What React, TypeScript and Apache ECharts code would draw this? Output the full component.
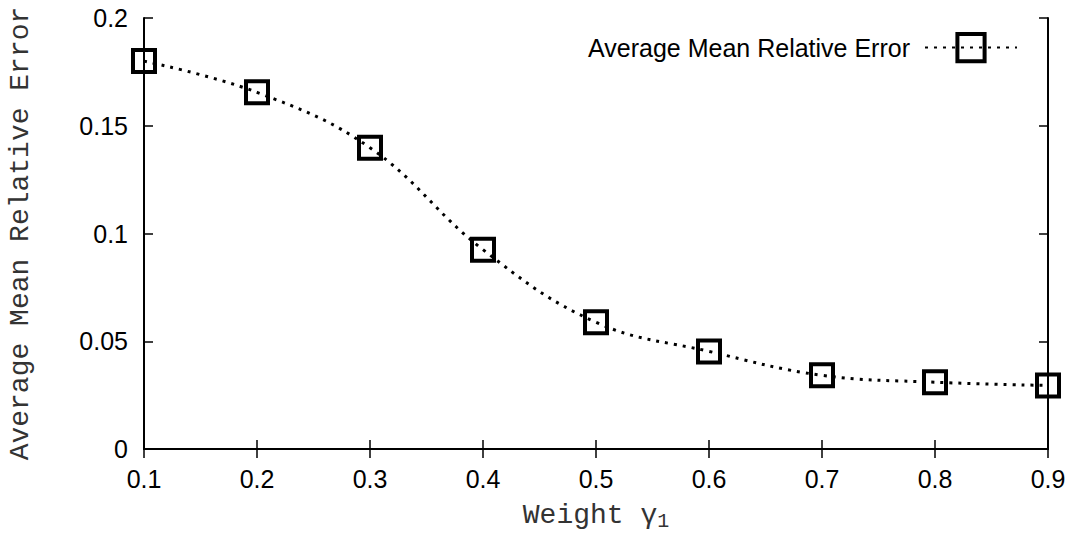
import React, { useEffect, useRef } from "react";
import * as echarts from "echarts";

const weights = [0.1, 0.2, 0.3, 0.4, 0.5, 0.6, 0.7, 0.8, 0.9];
const avgMRE = [0.18, 0.1655, 0.1398, 0.0925, 0.0588, 0.0453, 0.0342, 0.031, 0.0295];
const seriesName = "Average Mean Relative Error";
const yTitle = "Average Mean Relative Error";

export default function App() {
  const ref = useRef<HTMLDivElement>(null);
  useEffect(() => {
    if (!ref.current) return;
    const chart = echarts.init(ref.current, null, { renderer: "svg" });
    const sans = "'Liberation Sans', Arial, sans-serif";
    const mono = "'Liberation Mono', 'DejaVu Sans Mono', monospace";
    const axisCommon = {
      axisLine: { show: true, lineStyle: { color: "#000", width: 2 } },
      axisTick: { show: true, inside: true, length: 9, lineStyle: { color: "#000", width: 1.5 } },
      splitLine: { show: false },
    };
    chart.setOption({
      animation: false,
      backgroundColor: "#fff",
      grid: { left: 144, right: 29, top: 18, bottom: 86, containLabel: false, outerBoundsMode: "none" },
      legend: {
        show: true,
        right: 54,
        top: 27,
        align: "right",
        itemWidth: 92,
        itemHeight: 34,
        itemStyle: { borderWidth: 4, borderColor: "#000", color: "rgba(0,0,0,0)" },
        textStyle: { fontFamily: sans, fontSize: 25, color: "#000", padding: [0, 10, 0, 0] },
        data: [seriesName],
      },
      xAxis: [
        {
          type: "value",
          min: 0.1,
          max: 0.9,
          interval: 0.1,
          ...axisCommon,
          axisLabel: {
            fontFamily: sans,
            fontSize: 25,
            color: "#000",
            margin: 17,
            formatter: (v: number) => v.toFixed(1),
          },
          name: "Weight γ{sub|1}",
          nameLocation: "middle",
          nameGap: 50,
          nameMoveOverlap: false,
          nameTextStyle: {
            fontFamily: mono,
            fontSize: 28,
            color: "#333",
            rich: { sub: { fontFamily: mono, fontSize: 20, color: "#333", verticalAlign: "bottom", padding: [12, 0, 0, 0] } },
          },
        },
        {
          type: "value",
          position: "top",
          min: 0.1,
          max: 0.9,
          interval: 0.1,
          ...axisCommon,
          axisLabel: { show: false },
        },
      ],
      yAxis: [
        {
          type: "value",
          min: 0,
          max: 0.2,
          interval: 0.05,
          ...axisCommon,
          axisLabel: { fontFamily: sans, fontSize: 25, color: "#000", margin: 16 },
          name: yTitle,
          nameLocation: "middle",
          nameGap: 110,
          nameMoveOverlap: false,
          nameTextStyle: { fontFamily: mono, fontSize: 28, color: "#333" },
        },
        {
          type: "value",
          position: "right",
          min: 0,
          max: 0.2,
          interval: 0.05,
          ...axisCommon,
          axisLabel: { show: false },
        },
      ],
      series: [
        {
          name: seriesName,
          type: "line",
          data: weights.map((w, i) => [w, avgMRE[i]]),
          smooth: 0.4,
          symbol: "rect",
          symbolSize: 22,
          showSymbol: true,
          clip: false,
          lineStyle: { color: "#000", width: 3, type: [3, 6] },
          itemStyle: { color: "rgba(0,0,0,0)", borderColor: "#000", borderWidth: 4 },
          emphasis: { disabled: true },
        },
      ],
    });
    return () => chart.dispose();
  }, []);
  return (
    <div
      ref={ref}
      style={{ position: "fixed", left: 0, top: 0, width: 1077, height: 535, background: "#fff" }}
    />
  );
}
